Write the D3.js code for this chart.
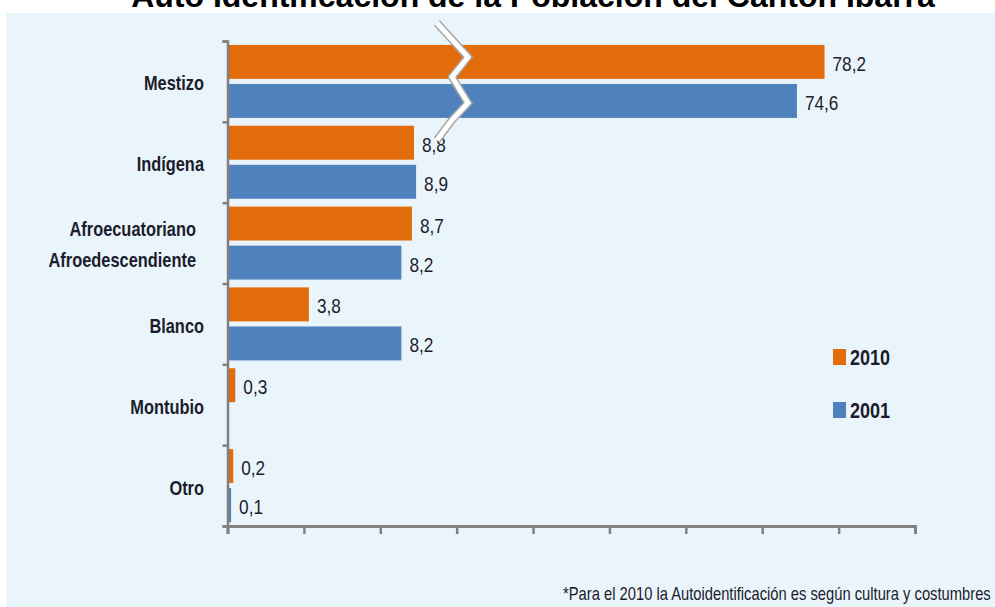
<!DOCTYPE html>
<html>
<head>
<meta charset="utf-8">
<script src="https://cdn.jsdelivr.net/npm/d3@7"></script>
<style>
  html, body { margin: 0; padding: 0; background: #fff; }
  svg { display: block; }
  .narrow { font-family: "Liberation Sans", Arial, sans-serif; fill: #1c1c2c; }
</style>
</head>
<body>
<div id="chart"></div>
<script>
const title = 'Auto Identificación de la Población del Cantón Ibarra';
const categories = ['Mestizo', 'Indígena', 'Afroecuatoriano', 'Blanco', 'Montubio', 'Otro'];
const categoryLines = [['Mestizo'], ['Indígena'], ['Afroecuatoriano', 'Afroedescendiente'], ['Blanco'], ['Montubio'], ['Otro']];
const years = ['2010', '2001'];
const values2010 = [78.2, 8.8, 8.7, 3.8, 0.3, 0.2];
const values2001 = [74.6, 8.9, 8.2, 8.2, null, 0.1];
const footnote = '*Para el 2010 la Autoidentificación es según cultura y costumbres';

const W = 995, H = 607;
const colors = { '2010': '#e36c0a', '2001': '#4f81bd' };
const axisColor = '#808080';
const squeeze = 0.82; // no condensed font installed, so narrow the glyphs instead

const svg = d3.select('#chart').append('svg')
  .attr('width', W)
  .attr('height', H);

// panel background
svg.append('rect')
  .attr('x', 6).attr('y', 13)
  .attr('width', W - 6).attr('height', H - 13)
  .attr('fill', '#eaf5fb');

svg.append('text')
  .attr('x', 533).attr('y', 7)
  .attr('text-anchor', 'middle')
  .style('font-family', '"Liberation Sans", Arial, sans-serif')
  .style('font-weight', 'bold')
  .style('font-size', '32px')
  .attr('fill', '#000')
  .text(title);

// broken value scale: 0..10.75 then 30..90
const x = d3.scaleLinear()
  .domain([0, 10.75, 30, 90])
  .range([229, 455, 455, 915]);

const y = d3.scaleBand()
  .domain(categories)
  .range([41, 526]);

const ySub = d3.scaleBand()
  .domain(years)
  .range([0, y.bandwidth()])
  .paddingInner(0.13)
  .paddingOuter(0.1);

const rows = [];
categories.forEach((c, i) => {
  rows.push({ cat: c, year: '2010', value: values2010[i] });
  if (values2001[i] != null) rows.push({ cat: c, year: '2001', value: values2001[i] });
});

const fmt = (v) => d3.format('.1f')(v).replace('.', ',');

const g = svg.append('g');

g.selectAll('rect.bar')
  .data(rows)
  .enter()
  .append('rect')
  .attr('class', 'bar')
  .attr('x', x(0))
  .attr('y', (d) => y(d.cat) + ySub(d.year))
  .attr('width', (d) => x(d.value) - x(0))
  .attr('height', ySub.bandwidth())
  .attr('fill', (d) => colors[d.year]);

g.selectAll('g.val')
  .data(rows)
  .enter()
  .append('g')
  .attr('class', 'val')
  .attr('transform', (d) => `translate(${x(d.value) + 8},${y(d.cat) + ySub(d.year) + ySub.bandwidth() / 2 + 9}) scale(${squeeze},1)`)
  .append('text')
  .attr('class', 'narrow')
  .style('font-size', '21px')
  .text((d) => fmt(d.value));

// axis break marker on the Mestizo bars
const bx = x(10.75);
const by = y(categories[0]);
const zig = [[-18, -18], [13, 16], [-3, 36], [13, 62], [-3, 79], [-18, 99]];
const zigLine = d3.line().x((d) => bx + d[0]).y((d) => by + d[1]);
svg.append('path')
  .attr('d', zigLine(zig))
  .attr('fill', 'none')
  .attr('stroke', '#a8a8a8')
  .attr('stroke-width', 8);
svg.append('path')
  .attr('d', zigLine(zig))
  .attr('fill', 'none')
  .attr('stroke', '#fff')
  .attr('stroke-width', 5);

// y axis with ticks at the category boundaries
const yEdges = d3.scaleLinear().domain([0, categories.length]).range(y.range());
const yAxis = svg.append('g')
  .attr('transform', `translate(${x(0) - 1.5},0)`)
  .call(d3.axisLeft(yEdges).ticks(categories.length).tickSize(5).tickFormat(''));
yAxis.select('.domain').attr('stroke', axisColor).attr('stroke-width', 2.5);
yAxis.selectAll('.tick line').attr('stroke', axisColor).attr('stroke-width', 2.5);

// x axis: unlabeled, evenly spaced ticks
const xTicks = d3.scaleLinear().domain([0, 9]).range([x(0) - 1.5, x.range()[3]]);
const xAxis = svg.append('g')
  .attr('transform', `translate(0,${y.range()[1]})`)
  .call(d3.axisBottom(xTicks).ticks(9).tickSize(8).tickSizeOuter(8).tickFormat(''));
xAxis.select('.domain').attr('stroke', axisColor).attr('stroke-width', 3);
xAxis.selectAll('.tick line').attr('stroke', axisColor).attr('stroke-width', 2.5);

// category labels
svg.selectAll('g.cat')
  .data(categories)
  .enter()
  .append('g')
  .attr('class', 'cat')
  .attr('transform', (d, i) => `translate(${i === 2 ? 196 : 204},${y(d) + y.bandwidth() / 2 + 9}) scale(${squeeze},1)`)
  .append('text')
  .attr('class', 'narrow')
  .attr('text-anchor', 'end')
  .style('font-size', '20px')
  .style('font-weight', 'bold')
  .each(function (d, i) {
    const lines = categoryLines[i];
    d3.select(this).selectAll('tspan')
      .data(lines)
      .enter()
      .append('tspan')
      .attr('x', 0)
      .attr('dy', (l, j) => j === 0 ? -(lines.length - 1) * 16 : 31)
      .text((l) => l);
  });

// legend
const legY = d3.scalePoint().domain(years).range([349, 402]);
const leg = svg.selectAll('g.leg')
  .data(years)
  .enter()
  .append('g')
  .attr('class', 'leg')
  .attr('transform', (d) => `translate(833,${legY(d)})`);
leg.append('rect')
  .attr('width', 13).attr('height', 16)
  .attr('fill', (d) => colors[d]);
leg.append('g')
  .attr('transform', `translate(17,16) scale(${squeeze},1)`)
  .append('text')
  .attr('class', 'narrow')
  .style('font-size', '22px')
  .style('font-weight', 'bold')
  .text((d) => d);

// footnote, squeezed so it ends at the right edge
const foot = svg.append('g');
const footText = foot.append('text')
  .attr('class', 'narrow')
  .style('font-size', '18px')
  .text(footnote);
const footScale = Math.min(squeeze, (W - 2 - 563) / footText.node().getComputedTextLength());
foot.attr('transform', `translate(563,600) scale(${footScale},1)`);
</script>
</body>
</html>
